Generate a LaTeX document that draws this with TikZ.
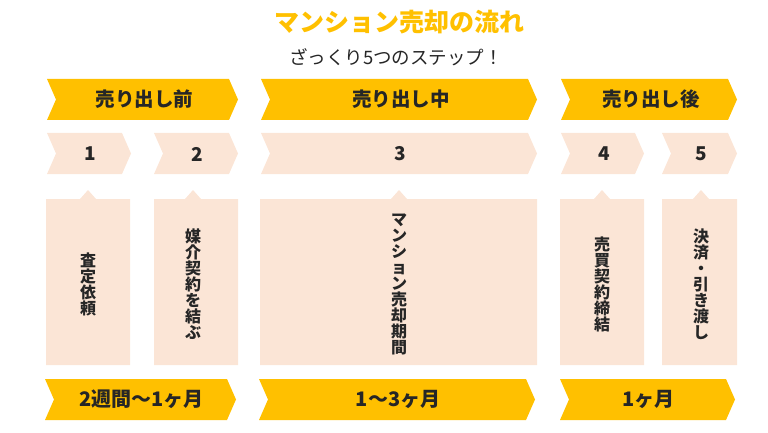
\documentclass[tikz,border=0pt]{standalone}
\usepackage{fontspec}
\newfontfamily\jp{Noto Sans CJK JP}
\definecolor{stepgold}{HTML}{FFC000}
\definecolor{steppink}{HTML}{FBE5D6}
\definecolor{steptext}{HTML}{262626}
% chevron: x from #1 to #2, y from #3 to #4, fill #5
\newcommand{\chevron}[5]{%
  \fill[#5] (#1,#3) -- (#2-9,#3) -- (#2,{(#3+#4)/2}) -- (#2-9,#4) -- (#1,#4) -- (#1+9,{(#3+#4)/2}) -- cycle;}

\begin{document}
\begin{tikzpicture}[x=1pt, y=-1pt, every node/.style={text=steptext, inner sep=0pt},
    phase/.style={font=\jp\bfseries\fontsize{19.5}{19.5}\selectfont},
    stepno/.style={font=\jp\bfseries\fontsize{19}{19}\selectfont},
    task/.style={font=\jp\bfseries\fontsize{16}{16}\selectfont, align=center}]
  \useasboundingbox (0,0) rectangle (768,433);
  % title
  \node[font=\jp\bfseries\fontsize{25}{25}\selectfont, text=stepgold] (title) at (399,22) {マンション売却の流れ};
  \node[font=\jp\fontsize{18.5}{18.5}\selectfont] (subtitle) at (396,57) {ざっくり5つのステップ！};
  % phases (top row)
  \foreach \xa/\xb/\lab [count=\i] in {47/238/売り出し前, 261/537/売り出し中, 561/737/売り出し後} {
    \chevron{\xa}{\xb}{79}{120}{stepgold}
    \node[phase] (phase\i) at ({(\xa+\xb)/2+2},99.5) {\lab};
  }
  % step numbers
  \foreach \xa/\xb [count=\i] in {47/131, 154/238, 261/537, 561/644, 662/737} {
    \chevron{\xa}{\xb}{133}{174}{steppink}
    \node[stepno] (num\i) at ({(\xa+\xb)/2+1.5},154) {\i};
  }
  % tasks
  \foreach \xa/\xb/\ax/\lab [count=\i] in {46/130/88/査\\定\\依\\頼,
      154/238/193/媒\\介\\契\\約\\を\\結\\ぶ,
      260/537/399/マ\\ン\\シ\\ョ\\ン\\売\\却\\期\\間,
      560/644/602/売\\買\\契\\約\\締\\結,
      662/737/701/決\\済\\・\\引\\き\\渡\\し} {
    \fill[steppink] (\xa,199) -- (\ax-8,199) -- (\ax,190) -- (\ax+8,199) -- (\xb,199) -- (\xb,365) -- (\xa,365) -- cycle;
    \node[task] (task\i) at (\ax,284) {\lab};
  }
  % durations (bottom row)
  \foreach \xa/\xb/\lab [count=\i] in {45/236/2週間〜1ヶ月, 259/535/1〜3ヶ月, 560/735/1ヶ月} {
    \chevron{\xa}{\xb}{379}{420}{stepgold}
    \node[phase, font=\jp\bfseries\fontsize{20}{20}\selectfont] (span\i) at ({(\xa+\xb)/2+1},399.5) {\lab};
  }
\end{tikzpicture}
\end{document}
